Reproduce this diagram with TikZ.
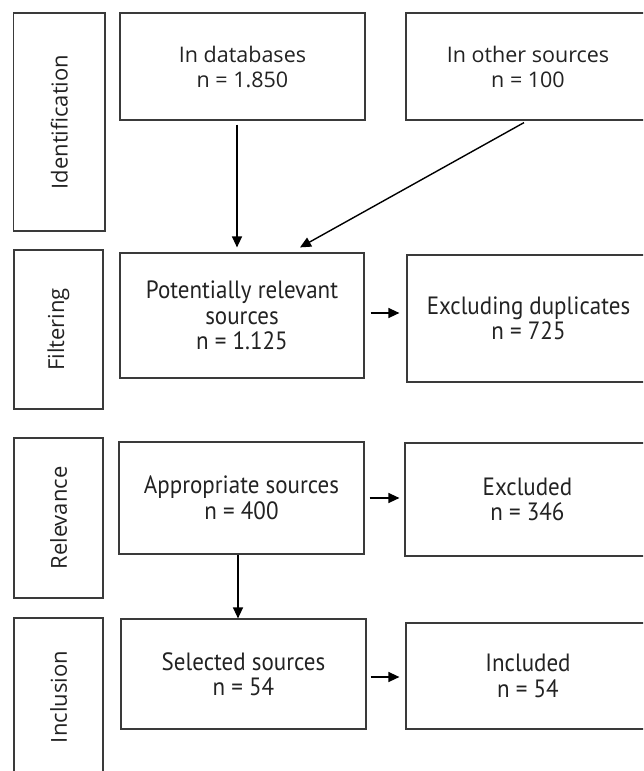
\documentclass[tikz,border=0pt]{standalone}
\usepackage{fontspec}
\setmainfont{Open Sans}
\newfontfamily\lowfont[FakeStretch=0.92]{PT Sans}
\usetikzlibrary{arrows.meta}
\definecolor{boxline}{HTML}{3A3A3A}
\definecolor{txt}{HTML}{222222}
\tikzset{
  box/.style={draw=boxline, line width=1.2pt, inner sep=0pt, align=center, text=txt},
  topbox/.style={box, font=\fontsize{21.5}{25}\selectfont},
  lowbox/.style={box, font=\lowfont\fontsize{25}{25.5}\selectfont},
  stage/.style={box},
  stagetext/.style={rotate=90, font=\fontsize{22}{25}\selectfont, text=txt},
  arr/.style={-{Triangle[length=11pt,width=10pt]}, line width=1.4pt, black}
}
\begin{document}
\begin{tikzpicture}[x=1pt,y=-1pt]
\useasboundingbox (0,0) rectangle (643,771);
\clip (0,0) rectangle (643,771);
% stage labels
\node[stage, minimum width=91.5, minimum height=218] (ident) at (59.25,122) {};
\node[stagetext] (identt) at (ident.center) {Identification};
\node[stage, minimum width=89, minimum height=159] (filt) at (58.5,329.5) {};
\node[stagetext] (filtt) at (filt.center) {Filtering};
\node[stage, minimum width=89, minimum height=160] (rel) at (58.5,518) {};
\node[stagetext] (relt) at (rel.center) {Relevance};
\node[stage, minimum width=89, minimum height=158] (incl) at (58.5,697) {};
\node[stagetext] (inclt) at (incl.center) {Inclusion};
% top row
\node[topbox, minimum width=245, minimum height=107] (db) at (242.5,66.5) {In databases\\n = 1.850};
\node[topbox, minimum width=244, minimum height=107] (other) at (528,66.5) {In other sources\\n = 100};
% filtering row
\node[lowbox, minimum width=244, minimum height=125] (pot) at (242,315.5) {Potentially relevant\\sources\\n = 1.125};
\node[lowbox, minimum width=243, minimum height=127] (dup) at (528.5,318.5) {Excluding duplicates\\n = 725};
% relevance row
\node[lowbox, minimum width=245, minimum height=112] (app) at (241.5,498) {Appropriate sources\\n = 400};
\node[lowbox, minimum width=245, minimum height=113] (excl) at (527.5,499.5) {Excluded\\n = 346};
% inclusion row
\node[lowbox, minimum width=245, minimum height=110] (sel) at (243.5,674) {Selected sources\\n = 54};
\node[lowbox, minimum width=244, minimum height=106] (inc) at (528,676) {Included\\n = 54};
% arrows
\draw[arr] ([xshift=-5.5pt,yshift=-4pt]db.south) -- ([xshift=-5pt,yshift=5pt]pot.north);
\draw[arr] ([xshift=-4pt,yshift=-2pt]other.south) -- ([xshift=58pt,yshift=5pt]pot.north);
\draw[arr] ([xshift=6pt,yshift=2.5pt]pot.east) -- ([xshift=-7pt,yshift=5.5pt]dup.west);
\draw[arr] ([xshift=5pt]app.east) -- ([xshift=-5pt,yshift=1.5pt]excl.west);
\draw[arr] ([xshift=-3.5pt]app.south) -- ([xshift=-5.5pt]sel.north);
\draw[arr] ([xshift=4pt,yshift=-3pt]sel.east) -- ([xshift=-6pt,yshift=-1pt]inc.west);
\end{tikzpicture}
\end{document}
